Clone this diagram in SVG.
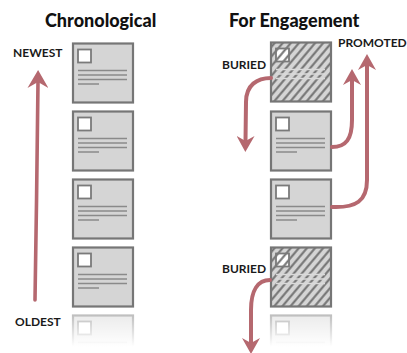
<svg xmlns="http://www.w3.org/2000/svg" xmlns:xlink="http://www.w3.org/1999/xlink" width="407" height="353" viewBox="0 0 407 353">
<style>
.title{font-family:Lato,"Liberation Sans",sans-serif;font-weight:900;font-size:18px;fill:#111}
.lbl{font-family:Lato,"Liberation Sans",sans-serif;font-weight:bold;font-size:12px;fill:#1a1a1a}
.cbox{fill:#d5d5d5;stroke:#767676;stroke-width:2.2}
.sq{fill:#fff;stroke:#7a7a7a;stroke-width:1.8}
.tl{stroke:#8a8a8a;stroke-width:1.5}
.tlh{stroke:#dadada;stroke-width:1.3}
.arr{fill:none;stroke:#b5686f;stroke-width:4;stroke-linecap:round}
</style>
<defs>
<pattern id="hatch" patternUnits="userSpaceOnUse" width="6.2" height="6.2" patternTransform="rotate(40)">
<line x1="3.1" y1="0" x2="3.1" y2="6.2" stroke="#6f6f6f" stroke-width="2"/>
</pattern>
<linearGradient id="fade" x1="0" y1="0" x2="0" y2="1">
<stop offset="0" stop-color="#fff" stop-opacity="0.5"/>
<stop offset="0.8" stop-color="#fff" stop-opacity="1"/>
</linearGradient>
<marker id="head" markerUnits="userSpaceOnUse" markerWidth="16" markerHeight="18" viewBox="0 0 16 18" refX="5" refY="9" orient="auto">
<path d="M16,9 L0,0 L5,9 L0,18 Z" fill="#b5686f"/>
</marker>
<marker id="headL" markerUnits="userSpaceOnUse" markerWidth="18" markerHeight="21" viewBox="0 0 18 21" refX="6" refY="10.5" orient="auto">
<path d="M18,10.5 L0,0 L6,10.5 L0,21 Z" fill="#b5686f"/>
</marker>
<g id="card">
<rect class="cbox" x="0" y="0" width="60" height="59"/>
<rect class="sq" x="5" y="6" width="13" height="13"/>
<line class="tl" x1="5" y1="27" x2="54" y2="27"/>
<line class="tl" x1="5" y1="31.5" x2="54" y2="31.5"/>
<line class="tl" x1="5" y1="36" x2="54" y2="36"/>
<line class="tl" x1="5" y1="40.5" x2="26" y2="40.5"/>
</g>
<g id="hcard">
<rect x="0" y="0" width="60" height="59" fill="#d5d5d5"/>
<rect x="5" y="6" width="13" height="13" fill="#fff"/>
<rect x="0" y="0" width="60" height="59" fill="url(#hatch)"/>
<line class="tlh" x1="5" y1="27" x2="54" y2="27"/>
<line class="tlh" x1="5" y1="31.5" x2="54" y2="31.5"/>
<line class="tlh" x1="5" y1="36" x2="54" y2="36"/>
<rect x="5" y="6" width="13" height="13" fill="none" stroke="#7a7a7a" stroke-width="1.8"/>
<rect x="0" y="0" width="60" height="59" fill="none" stroke="#767676" stroke-width="2.2"/>
</g>
</defs>
<rect width="407" height="353" fill="#fff"/>

<text class="title" x="45" y="27">Chronological</text>
<text class="title" x="229" y="27">For Engagement</text>
<text class="lbl" x="13" y="57">NEWEST</text>
<text class="lbl" x="15" y="326">OLDEST</text>
<text class="lbl" x="222" y="68.5">BURIED</text>
<text class="lbl" x="338" y="47">PROMOTED</text>
<text class="lbl" x="222" y="272.5">BURIED</text>

<g id="left-c1"><use xlink:href="#card" x="73" y="43.5"/></g>
<g id="left-c2"><use xlink:href="#card" x="73" y="111.5"/></g>
<g id="left-c3"><use xlink:href="#card" x="73" y="179.5"/></g>
<g id="left-c4"><use xlink:href="#card" x="73" y="247.5"/></g>
<g id="left-c5"><use xlink:href="#card" x="73" y="315.5"/><rect x="71" y="313" width="64" height="42" fill="url(#fade)"/></g>

<g id="right-c1"><use xlink:href="#hcard" x="271" y="42.5"/></g>
<g id="right-c2"><use xlink:href="#card" x="271" y="111.5"/></g>
<g id="right-c3"><use xlink:href="#card" x="271" y="179.5"/></g>
<g id="right-c4"><use xlink:href="#hcard" x="271" y="247.5"/></g>
<g id="right-c5"><use xlink:href="#card" x="271" y="315.5"/><rect x="269" y="313" width="64" height="42" fill="url(#fade)"/></g>

<g id="connectors">
<path class="arr" d="M35,300 C36,230 37.5,150 38,82" style="stroke-width:3.6" marker-end="url(#headL)"/>
<path class="arr" d="M271,78 C257,78 246,85 246,102 L245.5,141" marker-end="url(#head)"/>
<path class="arr" d="M332,147 C346,147 352,139 352,120 L352,80" marker-end="url(#head)"/>
<path class="arr" d="M332,207 C356,208 367,201 367,180 L367,65" marker-end="url(#head)"/>
<path class="arr" d="M270,280 C258,280 251,290 251,310 L251,343" marker-end="url(#head)"/>
</g>
</svg>
